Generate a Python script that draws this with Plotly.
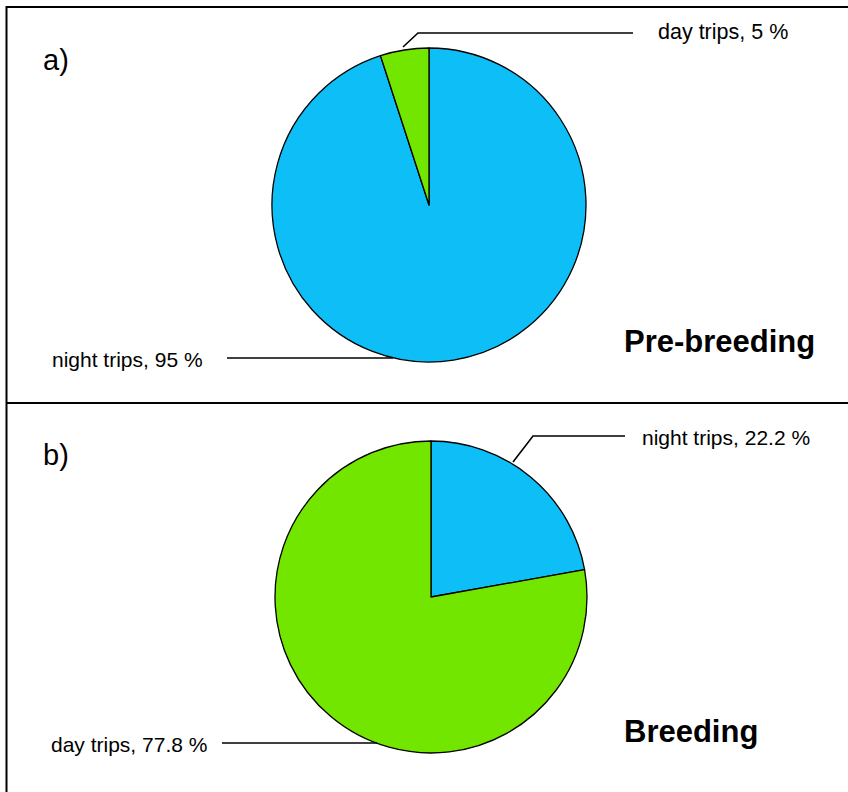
import plotly.graph_objects as go

W, H = 848, 792

# data
trip_types = ["night trips", "day trips"]
pre_breeding = [95, 5]
breeding = [22.2, 77.8]
pre_breeding_text = ["95", "5"]
breeding_text = ["22.2", "77.8"]
panel_tags = ["a)", "b)"]
panel_titles = ["Pre-breeding", "Breeding"]

blue = "#0DBFF6"
green = "#73E600"
font = "Liberation Sans, Arial, sans-serif"


def px(x):
    return x / W


def py(y):
    return 1 - y / H


def pie(values, cx, cy, r):
    return go.Pie(
        labels=trip_types, values=values, sort=False, direction="clockwise",
        rotation=0, textinfo="none", hoverinfo="label+percent",
        marker=dict(colors=[blue, green], line=dict(color="black", width=1.3)),
        domain=dict(x=[px(cx - r), px(cx + r)], y=[py(cy + r), py(cy - r)]),
        showlegend=False,
    )


fig = go.Figure()
fig.add_trace(pie(pre_breeding, 429, 205, 157))
fig.add_trace(pie(breeding, 431, 597, 156))

shapes = []
ln = dict(color="black", width=1.6)
frame = dict(color="black", width=2)
# panel frame
shapes.append(dict(type="line", xref="paper", yref="paper", x0=px(6.5), x1=1, y0=py(7), y1=py(7), line=frame))
shapes.append(dict(type="line", xref="paper", yref="paper", x0=px(6.5), x1=1, y0=py(403), y1=py(403), line=frame))
shapes.append(dict(type="line", xref="paper", yref="paper", x0=px(6.5), x1=px(6.5), y0=py(6), y1=0, line=frame))


def leader(points):
    path = "M " + " L ".join(f"{px(x)},{py(y)}" for x, y in points)
    shapes.append(dict(type="path", xref="paper", yref="paper", path=path, line=ln))


leader([(403, 47), (418, 33), (633, 33)])
leader([(227, 358), (393, 358)])
leader([(513, 462), (533, 436), (625, 436)])
leader([(222, 743), (377, 743)])

annotations = []


def text(x, y, s, size, bold=False, anchor="left"):
    annotations.append(dict(
        x=px(x), y=py(y), xref="paper", yref="paper", text=f"<b>{s}</b>" if bold else s,
        showarrow=False, xanchor=anchor, yanchor="middle",
        font=dict(family=font, size=size, color="black"),
    ))


text(656, 32, f"{trip_types[1]}, {pre_breeding_text[1]} %", 21.5)
text(205, 359, f"{trip_types[0]}, {pre_breeding_text[0]} %", 21, anchor="right")
text(640, 437, f"{trip_types[0]}, {breeding_text[0]} %", 21)
text(209, 744, f"{trip_types[1]}, {breeding_text[1]} %", 21, anchor="right")
text(41, 60, panel_tags[0], 29)
text(41, 455, panel_tags[1], 29)
text(622, 341, panel_titles[0], 31, bold=True)
text(622, 731, panel_titles[1], 31, bold=True)

fig.update_layout(
    width=W, height=H,
    margin=dict(l=0, r=0, t=0, b=0),
    paper_bgcolor="white", plot_bgcolor="white",
    shapes=shapes, annotations=annotations,
)

fig.write_html("out.html", config={"displayModeBar": False},
               post_script="document.body.style.margin='0';")
